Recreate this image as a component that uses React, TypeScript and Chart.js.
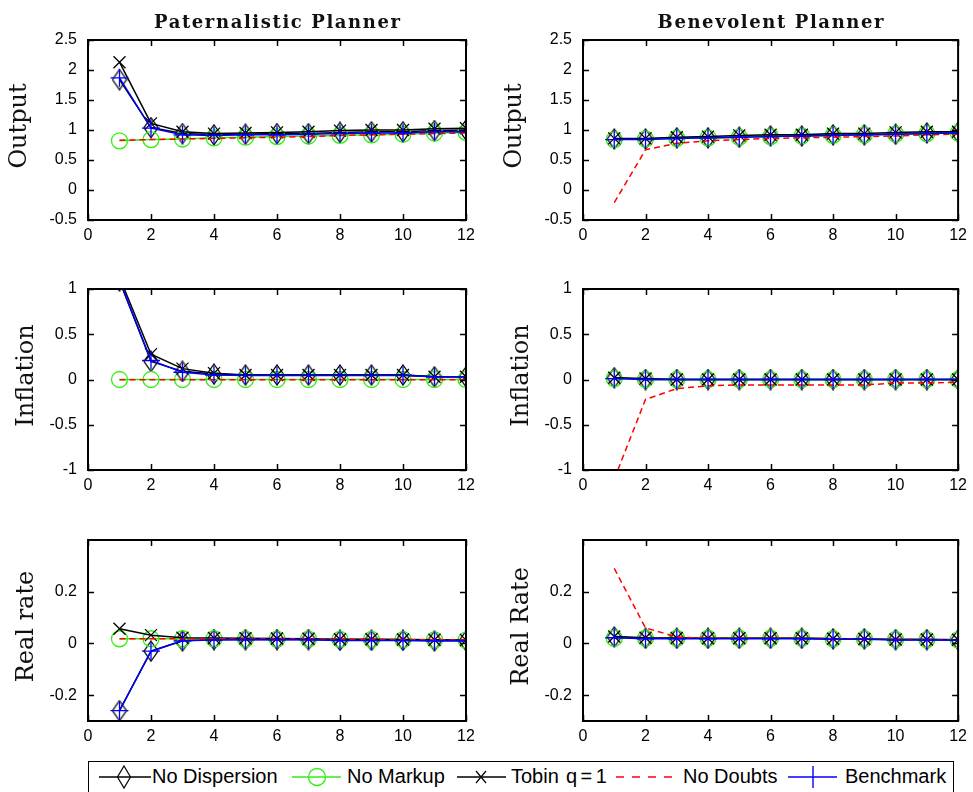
import React, { useEffect, useRef } from "react";
import { Chart, registerables } from "chart.js";

Chart.register(...registerables);

// ---------------- data ----------------
const PERIODS = [1, 2, 3, 4, 5, 6, 7, 8, 9, 10, 11, 12];
const X_TICKS = [0, 2, 4, 6, 8, 10, 12];
const OUTPUT_TICKS = [-0.5, 0, 0.5, 1, 1.5, 2, 2.5];
const INFLATION_TICKS = [-1, -0.5, 0, 0.5, 1];
const RATE_TICKS = [-0.2, 0, 0.2];
const COLUMN_TITLES = ["Paternalistic Planner", "Benevolent Planner"];
const LEFT_ROW_LABELS = ["Output", "Inflation", "Real rate"];
const RIGHT_ROW_LABELS = ["Output", "Inflation", "Real Rate"];
const SERIES_NAMES = ["No Dispersion", "No Markup", "Tobin  q = 1", "No Doubts", "Benchmark"];

// Paternalistic planner – output
const PAT_OUTPUT_NO_DISPERSION = [1.84, 1.04, 0.94, 0.92, 0.93, 0.94, 0.94, 0.96, 0.97, 0.97, 0.99, 1.0];
const PAT_OUTPUT_NO_MARKUP = [0.82, 0.84, 0.85, 0.87, 0.88, 0.89, 0.9, 0.91, 0.92, 0.93, 0.95, 0.96];
const PAT_OUTPUT_TOBIN = [2.13, 1.11, 0.97, 0.94, 0.95, 0.96, 0.97, 0.99, 1.0, 1.0, 1.02, 1.03];
const PAT_OUTPUT_NO_DOUBTS = [0.83, 0.84, 0.85, 0.86, 0.87, 0.88, 0.89, 0.91, 0.92, 0.93, 0.94, 0.95];
const PAT_OUTPUT_BENCHMARK = [1.87, 1.03, 0.92, 0.91, 0.92, 0.92, 0.93, 0.94, 0.95, 0.95, 0.97, 0.97];

// Benevolent planner – output
const BEN_OUTPUT_NO_DISPERSION = [0.85, 0.85, 0.87, 0.87, 0.88, 0.9, 0.9, 0.92, 0.92, 0.93, 0.95, 0.96];
const BEN_OUTPUT_NO_MARKUP = [0.84, 0.85, 0.86, 0.87, 0.88, 0.89, 0.9, 0.91, 0.92, 0.93, 0.94, 0.95];
const BEN_OUTPUT_TOBIN = [0.86, 0.86, 0.88, 0.89, 0.91, 0.92, 0.92, 0.94, 0.94, 0.96, 0.97, 0.97];
const BEN_OUTPUT_NO_DOUBTS = [-0.21, 0.67, 0.78, 0.82, 0.84, 0.86, 0.87, 0.88, 0.89, 0.9, 0.92, 0.93];
const BEN_OUTPUT_BENCHMARK = [0.84, 0.84, 0.86, 0.87, 0.88, 0.89, 0.9, 0.91, 0.92, 0.93, 0.94, 0.95];

// Paternalistic planner – inflation
const PAT_INFLATION_NO_DISPERSION = [1.09, 0.2, 0.09, 0.06, 0.05, 0.05, 0.05, 0.05, 0.05, 0.05, 0.03, 0.03];
const PAT_INFLATION_NO_MARKUP = [0.0, 0.0, 0.0, 0.0, 0.0, 0.0, 0.0, 0.0, 0.0, 0.0, 0.0, 0.0];
const PAT_INFLATION_TOBIN = [1.13, 0.28, 0.12, 0.07, 0.05, 0.05, 0.05, 0.05, 0.05, 0.05, 0.03, 0.03];
const PAT_INFLATION_NO_DOUBTS = [-0.002, -0.002, -0.002, -0.002, -0.002, -0.002, -0.002, -0.002, -0.002, -0.002, -0.002, -0.002];
const PAT_INFLATION_BENCHMARK = [1.1, 0.21, 0.08, 0.05, 0.045, 0.045, 0.045, 0.045, 0.045, 0.045, 0.03, 0.03];

// Benevolent planner – inflation
const BEN_INFLATION_NO_DISPERSION = [0.02, 0.0, 0.0, 0.0, 0.0, 0.0, 0.0, 0.0, 0.0, 0.0, 0.0, 0.0];
const BEN_INFLATION_NO_MARKUP = [0.01, 0.0, 0.0, 0.0, 0.0, 0.0, 0.0, 0.0, 0.0, 0.0, 0.0, 0.0];
const BEN_INFLATION_TOBIN = [0.02, 0.01, 0.0, 0.0, 0.0, 0.0, 0.0, 0.0, 0.0, 0.0, 0.0, 0.0];
const BEN_INFLATION_NO_DOUBTS = [-1.1, -0.22, -0.1, -0.07, -0.06, -0.06, -0.06, -0.06, -0.06, -0.04, -0.04, -0.03];
const BEN_INFLATION_BENCHMARK = [0.01, 0.0, 0.0, 0.0, 0.0, 0.0, 0.0, 0.0, 0.0, 0.0, 0.0, 0.0];

// Paternalistic planner – real rate
const PAT_RATE_NO_DISPERSION = [-0.26, -0.03, 0.01, 0.015, 0.015, 0.015, 0.015, 0.012, 0.012, 0.012, 0.01, 0.01];
const PAT_RATE_NO_MARKUP = [0.018, 0.018, 0.018, 0.018, 0.017, 0.017, 0.017, 0.016, 0.016, 0.015, 0.014, 0.013];
const PAT_RATE_TOBIN = [0.057, 0.032, 0.022, 0.021, 0.02, 0.019, 0.018, 0.016, 0.016, 0.015, 0.014, 0.013];
const PAT_RATE_NO_DOUBTS = [0.018, 0.018, 0.018, 0.018, 0.017, 0.017, 0.017, 0.016, 0.016, 0.015, 0.014, 0.013];
const PAT_RATE_BENCHMARK = [-0.26, -0.03, 0.01, 0.013, 0.014, 0.014, 0.014, 0.011, 0.011, 0.011, 0.01, 0.01];

// Benevolent planner – real rate
const BEN_RATE_NO_DISPERSION = [0.025, 0.02, 0.02, 0.02, 0.02, 0.02, 0.02, 0.018, 0.018, 0.015, 0.015, 0.014];
const BEN_RATE_NO_MARKUP = [0.02, 0.02, 0.02, 0.02, 0.02, 0.02, 0.02, 0.018, 0.018, 0.016, 0.015, 0.014];
const BEN_RATE_TOBIN = [0.027, 0.022, 0.021, 0.02, 0.02, 0.02, 0.02, 0.018, 0.017, 0.015, 0.015, 0.014];
const BEN_RATE_NO_DOUBTS = [0.29, 0.06, 0.025, 0.02, 0.02, 0.02, 0.02, 0.018, 0.017, 0.016, 0.015, 0.014];
const BEN_RATE_BENCHMARK = [0.022, 0.018, 0.018, 0.018, 0.018, 0.018, 0.018, 0.016, 0.016, 0.013, 0.013, 0.012];

// ---------------- styles ----------------
const BLACK = "#000000";
const GREEN = "#33ee11";
const RED = "#ff0000";
const BLUE = "#0000ff";

function makeDiamond(w: number, h: number, color: string, lw: number) {
  const c = document.createElement("canvas");
  c.width = w + 2;
  c.height = h + 2;
  const ctx = c.getContext("2d")!;
  ctx.strokeStyle = color;
  ctx.lineWidth = lw;
  ctx.beginPath();
  ctx.moveTo(c.width / 2, 1);
  ctx.lineTo(c.width - 1, c.height / 2);
  ctx.lineTo(c.width / 2, c.height - 1);
  ctx.lineTo(1, c.height / 2);
  ctx.closePath();
  ctx.stroke();
  return c;
}

const DIAMOND = makeDiamond(14, 20, BLACK, 1.3);

const SERIES_STYLES = [
  { color: BLACK, pointStyle: DIAMOND as any, radius: 10, dash: [] as number[] },
  { color: GREEN, pointStyle: "circle", radius: 8, dash: [] as number[] },
  { color: BLACK, pointStyle: "crossRot", radius: 8.5, dash: [] as number[] },
  { color: RED, pointStyle: false as any, radius: 0, dash: [6, 4] },
  { color: BLUE, pointStyle: "cross", radius: 9, dash: [] as number[] },
];

const TICK_FONT = { family: '"Liberation Sans", Arial, sans-serif', size: 16 };

// ---------------- frame plugin (MATLAB-like box, inward ticks, titles) ----------------
const framePlugin = {
  id: "matlabFrame",
  afterDatasetsDraw(chart: any, _args: any, opts: any) {
    const { ctx, chartArea: a, scales } = chart;
    const xs = scales.x;
    const ys = scales.y;
    ctx.save();
    ctx.strokeStyle = "#000";
    ctx.lineWidth = 1.5;
    ctx.beginPath();
    for (const t of xs.ticks) {
      const px = Math.round(xs.getPixelForValue(t.value)) + 0.5;
      ctx.moveTo(px, a.bottom);
      ctx.lineTo(px, a.bottom - 6);
      ctx.moveTo(px, a.top);
      ctx.lineTo(px, a.top + 6);
    }
    for (const t of ys.ticks) {
      const py = Math.round(ys.getPixelForValue(t.value)) + 0.5;
      ctx.moveTo(a.left, py);
      ctx.lineTo(a.left + 6, py);
      ctx.moveTo(a.right, py);
      ctx.lineTo(a.right - 6, py);
    }
    ctx.stroke();
    ctx.lineWidth = 2;
    ctx.strokeRect(a.left, a.top, a.right - a.left, a.bottom - a.top);

    ctx.fillStyle = "#111";
    if (opts.title) {
      ctx.font = 'bold 18px "DejaVu Serif", serif';
      (ctx as any).letterSpacing = "1.6px";
      ctx.textAlign = "center";
      ctx.textBaseline = "alphabetic";
      ctx.fillText(opts.title, (a.left + a.right) / 2 + 0.8, a.top - 12);
      (ctx as any).letterSpacing = "0px";
    }
    if (opts.ylabel) {
      ctx.font = '24px "DejaVu Serif", serif';
      ctx.textAlign = "center";
      ctx.textBaseline = "alphabetic";
      ctx.translate(a.left - opts.ylabelOffset, (a.top + a.bottom) / 2 - 4);
      ctx.rotate(-Math.PI / 2);
      ctx.fillText(opts.ylabel, 0, 0);
    }
    ctx.restore();
  },
};

type PanelProps = {
  cell: { x: number; y: number; w: number; h: number };
  area: { l: number; t: number; r: number; b: number };
  yMin: number;
  yMax: number;
  yTicks: number[];
  series: number[][];
  title?: string;
  ylabel: string;
  ylabelOffset: number;
};

function Panel(props: PanelProps) {
  const ref = useRef<HTMLCanvasElement | null>(null);
  useEffect(() => {
    const { cell, area, yMin, yMax, yTicks, series, title, ylabel, ylabelOffset } = props;
    const canvas = ref.current!;
    const datasets = series.map((vals, i) => {
      const st = SERIES_STYLES[i];
      return {
        label: SERIES_NAMES[i],
        data: PERIODS.map((p, j) => ({ x: p, y: vals[j] })),
        borderColor: st.color,
        backgroundColor: st.color,
        borderWidth: 1.5,
        borderDash: st.dash,
        pointStyle: st.pointStyle,
        pointRadius: st.radius,
        pointHoverRadius: st.radius,
        pointBorderColor: st.color,
        pointBackgroundColor: "rgba(0,0,0,0)",
        pointBorderWidth: 1.3,
        fill: false,
        tension: 0,
        order: 5 - i,
      };
    });
    const chart = new Chart(canvas, {
      type: "line",
      data: { datasets } as any,
      options: {
        animation: false,
        responsive: false,
        devicePixelRatio: 1,
        events: [],
        layout: {
          padding: { top: area.t - cell.y, left: 0, right: cell.x + cell.w - area.r, bottom: 0 },
        },
        plugins: {
          legend: { display: false },
          tooltip: { enabled: false },
          title: { display: false },
          matlabFrame: { title, ylabel, ylabelOffset },
        } as any,
        scales: {
          x: {
            type: "linear",
            min: 0,
            max: 12,
            afterBuildTicks: (s: any) => {
              s.ticks = X_TICKS.map((v) => ({ value: v }));
            },
            afterFit: (s: any) => {
              s.height = cell.y + cell.h - area.b;
            },
            grid: { display: false, drawTicks: false, tickLength: 0 },
            border: { display: false },
            ticks: {
              padding: 6,
              color: "#000",
              font: TICK_FONT,
              maxRotation: 0,
              autoSkip: false,
              callback: (v: any) => String(v),
            },
          },
          y: {
            type: "linear",
            min: yMin,
            max: yMax,
            afterBuildTicks: (s: any) => {
              s.ticks = yTicks.map((v) => ({ value: v }));
            },
            afterFit: (s: any) => {
              s.width = area.l - cell.x;
            },
            grid: { display: false, drawTicks: false, tickLength: 0 },
            border: { display: false },
            ticks: {
              padding: 11,
              color: "#000",
              font: TICK_FONT,
              autoSkip: false,
              callback: (v: any) => String(v),
            },
          },
        },
      } as any,
      plugins: [framePlugin],
    });
    return () => chart.destroy();
  }, []);
  const { cell } = props;
  return (
    <canvas
      ref={ref}
      width={cell.w}
      height={cell.h}
      style={{ position: "absolute", left: cell.x, top: cell.y, width: cell.w, height: cell.h }}
    />
  );
}

// ---------------- layout ----------------
const COLS = [
  { x: 0, w: 490, l: 88, r: 466 },
  { x: 490, w: 483, l: 583, r: 961 },
];
const ROWS = [
  { y: 0, h: 258, t: 40, b: 220, min: -0.5, max: 2.5, ticks: OUTPUT_TICKS, off: 62 },
  { y: 258, h: 250, t: 289, b: 470, min: -1, max: 1, ticks: INFLATION_TICKS, off: 55 },
  { y: 508, h: 252, t: 540, b: 721, min: -0.3, max: 0.4, ticks: RATE_TICKS, off: 55 },
];

const PANEL_SERIES = [
  [
    [PAT_OUTPUT_NO_DISPERSION, PAT_OUTPUT_NO_MARKUP, PAT_OUTPUT_TOBIN, PAT_OUTPUT_NO_DOUBTS, PAT_OUTPUT_BENCHMARK],
    [BEN_OUTPUT_NO_DISPERSION, BEN_OUTPUT_NO_MARKUP, BEN_OUTPUT_TOBIN, BEN_OUTPUT_NO_DOUBTS, BEN_OUTPUT_BENCHMARK],
  ],
  [
    [PAT_INFLATION_NO_DISPERSION, PAT_INFLATION_NO_MARKUP, PAT_INFLATION_TOBIN, PAT_INFLATION_NO_DOUBTS, PAT_INFLATION_BENCHMARK],
    [BEN_INFLATION_NO_DISPERSION, BEN_INFLATION_NO_MARKUP, BEN_INFLATION_TOBIN, BEN_INFLATION_NO_DOUBTS, BEN_INFLATION_BENCHMARK],
  ],
  [
    [PAT_RATE_NO_DISPERSION, PAT_RATE_NO_MARKUP, PAT_RATE_TOBIN, PAT_RATE_NO_DOUBTS, PAT_RATE_BENCHMARK],
    [BEN_RATE_NO_DISPERSION, BEN_RATE_NO_MARKUP, BEN_RATE_TOBIN, BEN_RATE_NO_DOUBTS, BEN_RATE_BENCHMARK],
  ],
];

// ---------------- legend ----------------
const LEGEND_Y = 777;
const LEGEND_ITEMS = [
  { x0: 99, x1: 151, mx: 124, tx: 152 },
  { x0: 292, x1: 341, mx: 317, tx: 347 },
  { x0: 457, x1: 506, mx: 481, tx: 511 },
  { x0: 616, x1: 672, mx: 0, tx: 683 },
  { x0: 788, x1: 837, mx: 813, tx: 845 },
];

function LegendSample({ i, x0, x1, mx }: { i: number; x0: number; x1: number; mx: number }) {
  const st = SERIES_STYLES[i];
  const h = 30;
  const cy = h / 2;
  const w = x1 - x0;
  const m = mx - x0;
  let marker: any = null;
  if (i === 0) {
    marker = (
      <polygon
        points={`${m},${cy - 11} ${m + 6.5},${cy} ${m},${cy + 11} ${m - 6.5},${cy}`}
        fill="none"
        stroke={st.color}
        strokeWidth={1.2}
      />
    );
  } else if (i === 1) {
    marker = <circle cx={m} cy={cy} r={8.5} fill="none" stroke={st.color} strokeWidth={1.3} />;
  } else if (i === 2) {
    marker = (
      <path
        d={`M${m - 5},${cy - 6} L${m + 5},${cy + 6} M${m + 5},${cy - 6} L${m - 5},${cy + 6}`}
        stroke={st.color}
        strokeWidth={1.2}
      />
    );
  } else if (i === 4) {
    marker = <path d={`M${m},${cy - 11} L${m},${cy + 11}`} stroke={st.color} strokeWidth={1.4} />;
  }
  return (
    <svg
      width={w}
      height={h}
      style={{ position: "absolute", left: x0, top: LEGEND_Y - cy, overflow: "visible" }}
    >
      <line
        x1={0}
        y1={cy}
        x2={w}
        y2={cy}
        stroke={st.color}
        strokeWidth={1.5}
        strokeDasharray={st.dash.length ? "8 8" : undefined}
      />
      {marker}
    </svg>
  );
}

function Legend() {
  return (
    <>
      <div
        style={{
          position: "absolute",
          left: 88,
          top: 761,
          width: 866,
          height: 45,
          boxSizing: "border-box",
          border: "1.5px solid #000",
          background: "#fff",
        }}
      />
      {LEGEND_ITEMS.map((it, i) => (
        <React.Fragment key={i}>
          <LegendSample i={i} x0={it.x0} x1={it.x1} mx={it.mx} />
          <div
            style={{
              position: "absolute",
              left: it.tx,
              top: 764,
              font: '20px "Liberation Sans", Arial, sans-serif',
              lineHeight: "24px",
              whiteSpace: "pre",
              wordSpacing: i === 2 ? "-2px" : undefined,
              color: "#000",
            }}
          >
            {SERIES_NAMES[i]}
          </div>
        </React.Fragment>
      ))}
    </>
  );
}

export default function App() {
  return (
    <div
      style={{
        position: "absolute",
        left: 0,
        top: 0,
        width: 973,
        height: 792,
        overflow: "hidden",
        background: "#fff",
      }}
    >
      {ROWS.map((row, ri) =>
        COLS.map((col, ci) => (
          <Panel
            key={`${ri}-${ci}`}
            cell={{ x: col.x, y: row.y, w: col.w, h: row.h }}
            area={{ l: col.l, t: row.t, r: col.r, b: row.b }}
            yMin={row.min}
            yMax={row.max}
            yTicks={row.ticks}
            series={PANEL_SERIES[ri][ci]}
            title={ri === 0 ? COLUMN_TITLES[ci] : undefined}
            ylabel={ci === 0 ? LEFT_ROW_LABELS[ri] : RIGHT_ROW_LABELS[ri]}
            ylabelOffset={row.off}
          />
        ))
      )}
      <Legend />
    </div>
  );
}
